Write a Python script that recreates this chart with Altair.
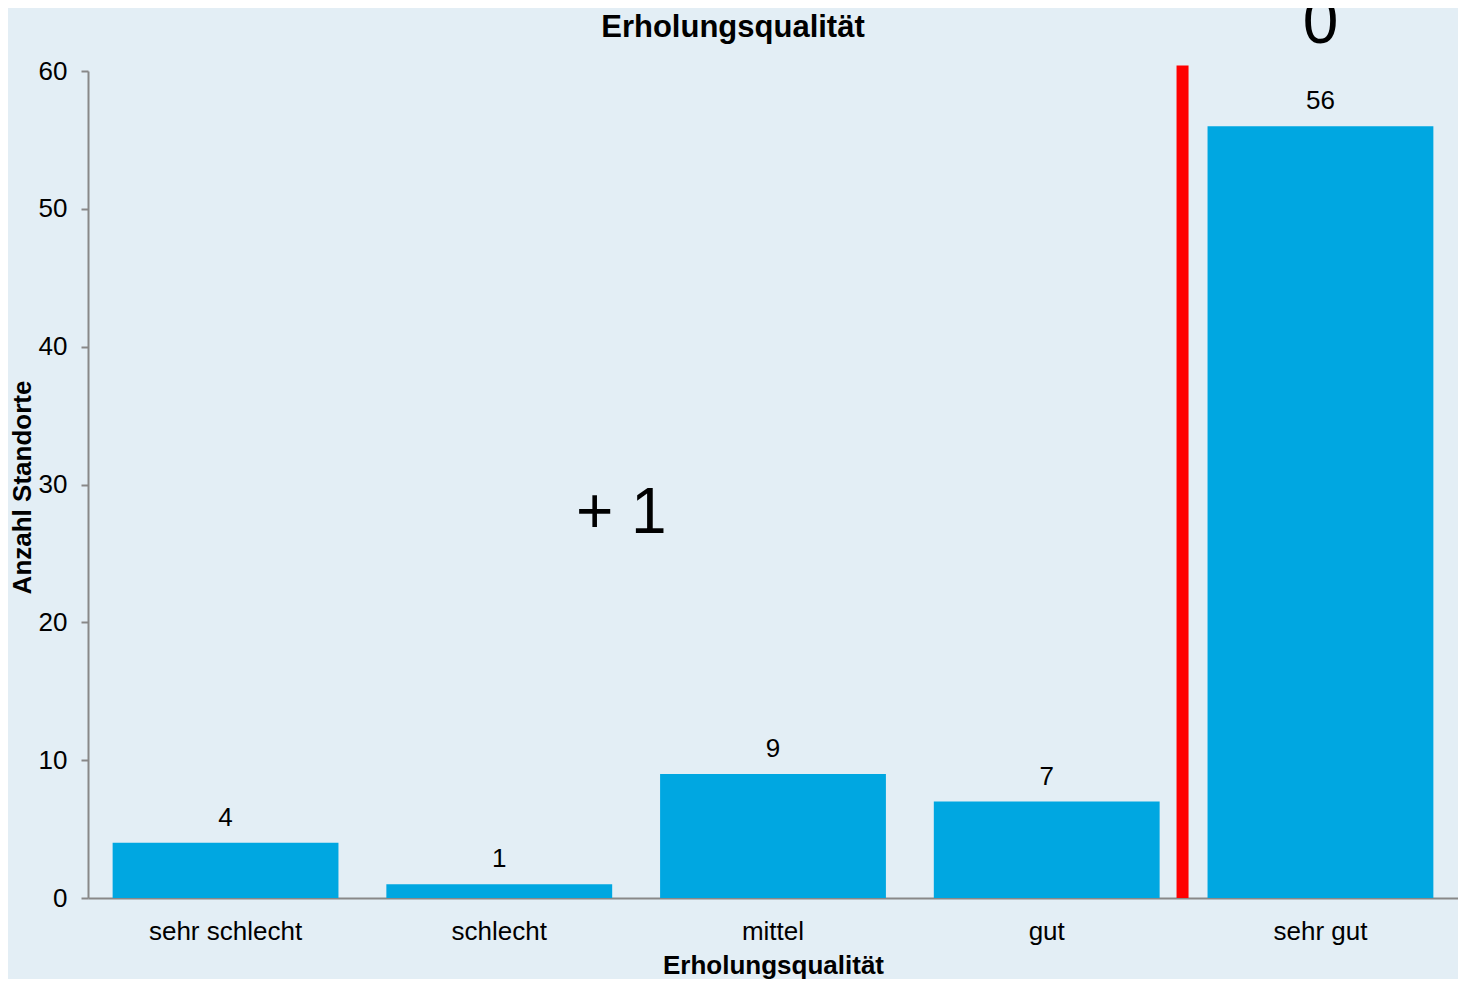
import altair as alt
import pandas as pd

categories = ["sehr schlecht", "schlecht", "mittel", "gut", "sehr gut"]
counts = [4, 1, 9, 7, 56]
y_ticks = [0, 10, 20, 30, 40, 50, 60]

plus_text = ["+ 1"]
plus_cat = ["schlecht"]
plus_y = [26.5]

zero_text = ["0"]
zero_cat = ["sehr gut"]
zero_y = [62.05]

divider_cat = ["sehr gut"]
divider_bottom = [0]
divider_top = [60.4]

FONT = "Liberation Sans"
BAR = "#00a7e1"
BG = "#e3eef5"

df = pd.DataFrame({"cat": categories, "n": counts})
df_plus = pd.DataFrame({"cat": plus_cat, "n": plus_y, "t": plus_text})
df_zero = pd.DataFrame({"cat": zero_cat, "n": zero_y, "t": zero_text})
df_div = pd.DataFrame({"cat": divider_cat, "n": divider_bottom, "n2": divider_top})

x_scale = alt.Scale(domain=categories, paddingInner=0.175, paddingOuter=0.09)
y_scale = alt.Scale(domain=[0, 60], nice=False)

x_axis = alt.Axis(
    title="Erholungsqualität",
    labelAngle=0,
    ticks=False,
    tickSize=0,
    labelPadding=41,
    labelBaseline="alphabetic",
    labelFont=FONT,
    labelFontSize=26,
    labelColor="black",
    titleFont=FONT,
    titleFontSize=26,
    titleFontWeight="bold",
    titleColor="black",
    titleBaseline="alphabetic",
    titleY=75,
    domainColor="#888888",
    domainWidth=2,
)
y_axis = alt.Axis(
    title="Anzahl Standorte",
    values=y_ticks,
    grid=False,
    tickSize=7,
    tickWidth=2,
    tickColor="#888888",
    labelPadding=14,
    labelFont=FONT,
    labelFontSize=26,
    labelColor="black",
    titleFont=FONT,
    titleFontSize=26,
    titleFontWeight="bold",
    titleColor="black",
    titleBaseline="alphabetic",
    titleX=-58,
    titleY=416,
    domainColor="#888888",
    domainWidth=2,
)

X = alt.X("cat:N", scale=x_scale, sort=categories, axis=x_axis)
Y = alt.Y("n:Q", scale=y_scale, axis=y_axis)

bars = alt.Chart(df).mark_bar(color=BAR).encode(x=X, y=Y)

labels = alt.Chart(df).mark_text(
    dy=-17, baseline="alphabetic", fontSize=26, font=FONT, color="black"
).encode(x=X, y=Y, text="n:Q")

divider = alt.Chart(df_div).mark_rule(color="#ff0000", strokeWidth=12, xOffset=-25).encode(
    x=alt.X("cat:N", scale=x_scale, sort=categories, axis=x_axis, bandPosition=0),
    y=Y,
    y2="n2:Q",
)

plus = alt.Chart(df_plus).mark_text(
    dx=122, baseline="alphabetic", fontSize=64, font=FONT, color="black"
).encode(x=X, y=Y, text="t:N")

zero = alt.Chart(df_zero).mark_text(
    baseline="alphabetic", fontSize=64, font=FONT, color="black"
).encode(x=X, y=Y, text="t:N")

chart = alt.layer(bars, labels, divider, plus, zero).properties(
    width=1370,
    height=827,
    autosize=alt.AutoSizeParams(type="none"),
    padding={"left": 80, "top": 63, "right": 0, "bottom": 81},
    background=BG,
    title=alt.TitleParams(
        "Erholungsqualität",
        font=FONT,
        fontSize=31,
        fontWeight="bold",
        color="black",
        anchor="middle",
        dx=-40,
        dy=116,
        baseline="alphabetic",
        offset=40,
    ),
).configure_view(strokeWidth=0)

chart.save("out.html", embed_options={"renderer": "svg", "actions": False})
